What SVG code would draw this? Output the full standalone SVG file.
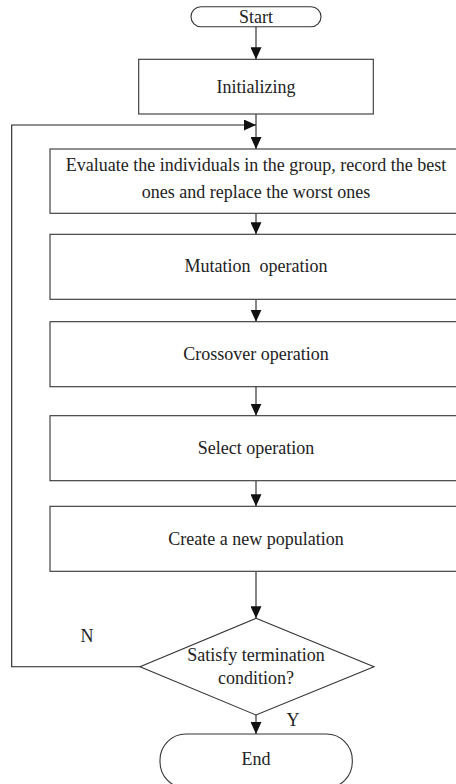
<svg xmlns="http://www.w3.org/2000/svg" width="456" height="784" viewBox="0 0 456 784">
<style>
.n{fill:#fff;stroke:#333;stroke-width:1.1}
.t{font-family:"Liberation Serif","Times New Roman",serif;font-size:18px;fill:#222;text-anchor:middle;dominant-baseline:central}
.c{fill:none;stroke:#222;stroke-width:1.1}
</style>
<defs>
<marker id="ah" viewBox="0 0 12 11" refX="12" refY="5.5" markerWidth="12" markerHeight="11" markerUnits="userSpaceOnUse" orient="auto">
<path d="M0,0 L12,5.5 L0,11 Z" fill="#111"/>
</marker>
</defs>
<rect width="456" height="784" fill="#fff"/>
<g id="connectors">
<line class="c" x1="256" y1="26.7" x2="256" y2="59.3" marker-end="url(#ah)"/>
<line class="c" x1="256" y1="114" x2="256" y2="149" marker-end="url(#ah)"/>
<line class="c" x1="256" y1="213.3" x2="256" y2="234.3" marker-end="url(#ah)"/>
<line class="c" x1="256" y1="299.3" x2="256" y2="321.7" marker-end="url(#ah)"/>
<line class="c" x1="256" y1="386.7" x2="256" y2="415.7" marker-end="url(#ah)"/>
<line class="c" x1="256" y1="480.7" x2="256" y2="506.3" marker-end="url(#ah)"/>
<line class="c" x1="256" y1="571.3" x2="256" y2="618.3" marker-end="url(#ah)"/>
<line class="c" x1="256" y1="715" x2="256" y2="734" marker-end="url(#ah)"/>
<polyline class="c" points="140,666.7 11.7,666.7 11.7,125 256,125" marker-end="url(#ah)"/>
<text class="t" x="87" y="636">N</text>
<text class="t" x="293" y="719.5">Y</text>
</g>
<g id="start">
<rect class="n" x="191" y="6.7" width="130" height="20" rx="10"/>
<text class="t" x="256" y="16.5">Start</text>
</g>
<g id="init">
<rect class="n" x="138.7" y="59.3" width="234.6" height="54.7"/>
<text class="t" x="256" y="86.7">Initializing</text>
</g>
<g id="evaluate">
<rect class="n" x="50" y="149" width="412" height="64.3"/>
<text class="t" x="256" y="165">Evaluate the individuals in the group, record the best</text>
<text class="t" x="256" y="191.5">ones and replace the worst ones</text>
</g>
<g id="mutation">
<rect class="n" x="50" y="234.3" width="412" height="65"/>
<text class="t" x="256" y="266" xml:space="preserve">Mutation  operation</text>
</g>
<g id="crossover">
<rect class="n" x="50" y="321.7" width="412" height="65"/>
<text class="t" x="256" y="354.3">Crossover operation</text>
</g>
<g id="select">
<rect class="n" x="50" y="415.7" width="412" height="65"/>
<text class="t" x="256" y="448.3">Select operation</text>
</g>
<g id="create">
<rect class="n" x="50" y="506.3" width="412" height="65"/>
<text class="t" x="256" y="539.3">Create a new population</text>
</g>
<g id="decision">
<polygon class="n" points="256,618.3 374,666.7 256,715 140,666.7"/>
<text class="t" x="256" y="655">Satisfy termination</text>
<text class="t" x="256" y="677.7">condition?</text>
</g>
<g id="end">
<rect class="n" x="160" y="734" width="192.3" height="54" rx="26"/>
<text class="t" x="256" y="759.3">End</text>
</g>
</svg>
